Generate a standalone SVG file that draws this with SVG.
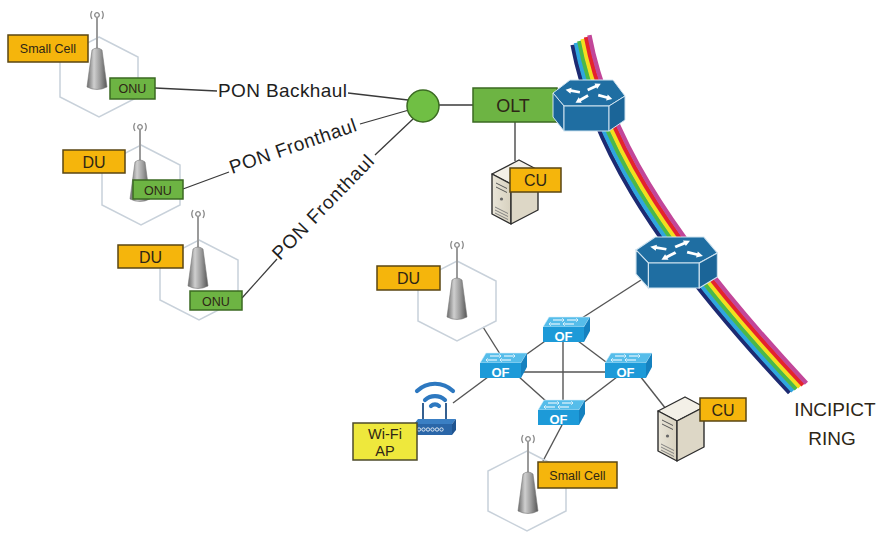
<svg xmlns="http://www.w3.org/2000/svg" width="877" height="534" viewBox="0 0 877 534">
<style>
  .hex{fill:none;stroke:#c8d1da;stroke-width:1.5}
  .lo{fill:#f5b50c;stroke:#5a4612;stroke-width:1.5}
  .lg{fill:#6db443;stroke:#3b6a22;stroke-width:1.5}
  .ly{fill:#eee83c;stroke:#4d4b2a;stroke-width:1.5}
  .t{font-family:"Liberation Sans",Arial,sans-serif;fill:#2e2616;text-anchor:middle}
  .pon{font-family:"Liberation Sans",Arial,sans-serif;fill:#1e1e1e;font-size:19px}
  .of{font-family:"Liberation Sans",Arial,sans-serif;fill:#ffffff;font-size:13px;font-weight:bold;text-anchor:middle}
  .link{stroke:#3a3a3a;stroke-width:1.3;fill:none}
  .lan{stroke:#555;stroke-width:1.4;fill:none}
</style>
<defs>
  <linearGradient id="coneG" x1="0" x2="1" y1="0" y2="0">
    <stop offset="0" stop-color="#6a6a6a"/>
    <stop offset="0.35" stop-color="#cfcfcf"/>
    <stop offset="0.65" stop-color="#9c9c9c"/>
    <stop offset="1" stop-color="#555"/>
  </linearGradient>
  <linearGradient id="srvF" x1="0" x2="1" y1="0" y2="0">
    <stop offset="0" stop-color="#e9e5d8"/>
    <stop offset="1" stop-color="#d7d1bf"/>
  </linearGradient>
  <!-- hexagonal coverage outline -->
  <path id="hexcell" class="hex" d="M0,-40 L39,-20 L39,20 L0,40 L-39,20 L-39,-20 Z"/>
  <!-- radio mast with cone -->
  <g id="ant">
    <circle cx="0" cy="0" r="2.3" fill="none" stroke="#8a8a8a" stroke-width="1.3"/>
    <path d="M-5,-4 Q-7.5,0 -5,4 M5,-4 Q7.5,0 5,4" stroke="#8a8a8a" fill="none" stroke-width="1.3"/>
    <line x1="0" y1="2.5" x2="0" y2="36" stroke="#9a9a9a" stroke-width="2"/>
    <path d="M-5,35 Q0,31 5,35 L10,72 Q0,77 -10,72 Z" fill="url(#coneG)" stroke="#777" stroke-width="0.6"/>
  </g>
  <!-- arrow glyph used on router tops -->
  <polygon id="arr" points="-7,-1.6 2,-1.6 2,-3.6 7.5,0 2,3.6 2,1.6 -7,1.6" fill="#ffffff"/>
  <!-- core router -->
  <g id="router">
    <polygon points="0,13 17,0 60,0 72,16 56,26 11,26" fill="#1f6ea2" stroke="#cfe3f0" stroke-width="1"/>
    <polygon points="0,13 11,26 11,51 0,37" fill="#1b6598" stroke="#cfe3f0" stroke-width="1"/>
    <rect x="11" y="26" width="45" height="25" fill="#1f6ea2" stroke="#cfe3f0" stroke-width="1"/>
    <polygon points="56,26 72,16 72,40 56,51" fill="#1b6598" stroke="#cfe3f0" stroke-width="1"/>
    <use href="#arr" transform="translate(20,11) rotate(190) scale(1,0.85)"/>
    <use href="#arr" transform="translate(41,7) rotate(-25) scale(1,0.85)"/>
    <use href="#arr" transform="translate(52,17) rotate(15) scale(1,0.85)"/>
    <use href="#arr" transform="translate(29,19) rotate(150) scale(1,0.85)"/>
  </g>
  <!-- workgroup switch body -->
  <g id="ofsw">
    <polygon points="6,0 47,0 41,10 0,10" fill="#56bdea" stroke="#d6f0fb" stroke-width="0.6"/>
    <rect x="0" y="10" width="41" height="15" fill="#1d9ad8"/>
    <polygon points="41,10 47,0 47,14 41,25" fill="#1581bf"/>
    <path d="M10,3 h9 M24,3 h9 M8,7 h9 M22,7 h9" stroke="#ffffff" stroke-width="1.1"/>
    <path d="M19,1.5 l2,1.5 l-2,1.5 M22,5.5 l-2,1.5 l2,1.5 M33,1.5 l2,1.5 l-2,1.5 M8,5.5 l-2,1.5 l2,1.5" stroke="#ffffff" stroke-width="0.9" fill="none"/>
  </g>
  <!-- tower server -->
  <g id="server">
    <polygon points="0,14 27,0 46,10 19,24" fill="#f3f0e7" stroke="#2e2e2e" stroke-width="1.4" stroke-linejoin="round"/>
    <polygon points="0,14 19,24 19,64 0,54" fill="url(#srvF)" stroke="#2e2e2e" stroke-width="1.4" stroke-linejoin="round"/>
    <polygon points="19,24 46,10 46,50 19,64" fill="#ddd7c6" stroke="#2e2e2e" stroke-width="1.4" stroke-linejoin="round"/>
    <path d="M4,23 L15,28.5 M4,27 L15,32.5" stroke="#555" stroke-width="1"/>
    <circle cx="9.5" cy="39" r="1.6" fill="#666"/>
    <path d="M3,47 L16,53.5 M3,50 L16,56.5 M3,53 L16,59.5" stroke="#777" stroke-width="0.9"/>
  </g>
  <!-- ring fibre path -->
  <path id="ringpath" d="M581,40 C598,130 650,230 798,388" fill="none"/>
</defs>

<!-- fibre ring -->
<g id="incipict-ring" fill="none" stroke-width="4.4">
  <use href="#ringpath" stroke="#1d2a72" transform="translate(-8.4,4.85)"/>
  <use href="#ringpath" stroke="#2fa6df" transform="translate(-5.05,2.9)"/>
  <use href="#ringpath" stroke="#4cb848" transform="translate(-1.7,0.97)"/>
  <use href="#ringpath" stroke="#f2df1e" transform="translate(1.7,-0.97)"/>
  <use href="#ringpath" stroke="#e5232c" transform="translate(5.05,-2.9)"/>
  <use href="#ringpath" stroke="#c24699" transform="translate(8.4,-4.85)"/>
</g>
<g id="ring-label">
  <text class="t" x="835" y="416" font-size="19" fill="#333">INCIPICT</text>
  <text class="t" x="832" y="445" font-size="19" fill="#333">RING</text>
</g>

<!-- connectors -->
<g id="connectors">
  <line class="link" x1="155" y1="88" x2="217" y2="91"/>
  <line class="link" x1="348" y1="93" x2="408" y2="100"/>
  <line class="link" x1="183" y1="189" x2="229" y2="172"/>
  <line class="link" x1="360" y1="124" x2="409" y2="110"/>
  <line class="link" x1="242" y1="298" x2="277" y2="259"/>
  <line class="link" x1="375" y1="155" x2="413" y2="119"/>
  <line class="link" x1="439" y1="105" x2="473" y2="105"/>
  <line class="link" x1="515" y1="122" x2="515" y2="161"/>
  <text class="pon" x="218" y="97" textLength="129">PON Backhaul</text>
  <text class="pon" transform="translate(232,174) rotate(-19)" textLength="133">PON Fronthaul</text>
  <text class="pon" transform="translate(280,261) rotate(-46)" textLength="137">PON Fronthaul</text>
  <!-- metro / OpenFlow mesh -->
  <line class="lan" x1="641" y1="280" x2="582" y2="318"/>
  <line class="lan" x1="483" y1="327" x2="500" y2="354"/>
  <line class="lan" x1="527" y1="354" x2="548" y2="339"/>
  <line class="lan" x1="578" y1="341" x2="606" y2="362"/>
  <line class="lan" x1="563" y1="342" x2="563" y2="401"/>
  <line class="lan" x1="522" y1="372" x2="606" y2="372"/>
  <line class="lan" x1="518" y1="376" x2="547" y2="402"/>
  <line class="lan" x1="617" y1="377" x2="583" y2="403"/>
  <line class="lan" x1="453" y1="403" x2="488" y2="377"/>
  <line class="lan" x1="562" y1="425" x2="543" y2="461"/>
  <line class="lan" x1="640" y1="376" x2="666" y2="409"/>
</g>

<!-- PON access side -->
<g id="small-cell-1">
  <use href="#hexcell" transform="translate(99,77)"/>
  <use href="#ant" transform="translate(97,15)"/>
  <rect class="lo" x="8" y="35" width="80" height="27"/>
  <text class="t" x="48" y="53" font-size="12.5">Small Cell</text>
  <rect class="lg" x="110" y="78" width="45" height="21"/>
  <text class="t" x="132.5" y="93" font-size="12.5">ONU</text>
</g>
<g id="du-1">
  <use href="#hexcell" transform="translate(141,185)"/>
  <use href="#ant" transform="translate(140,127)"/>
  <rect class="lo" x="63" y="150" width="62" height="23"/>
  <text class="t" x="94" y="167.5" font-size="16">DU</text>
  <rect class="lg" x="133" y="180" width="50" height="19"/>
  <text class="t" x="158" y="194.5" font-size="12.5">ONU</text>
</g>
<g id="du-2">
  <use href="#hexcell" transform="translate(199,280)"/>
  <use href="#ant" transform="translate(198,214)"/>
  <rect class="lo" x="118" y="245" width="65" height="23"/>
  <text class="t" x="150.5" y="262.5" font-size="16">DU</text>
  <rect class="lg" x="190" y="291" width="52" height="19"/>
  <text class="t" x="216" y="305.5" font-size="12.5">ONU</text>
</g>
<g id="splitter">
  <circle cx="423" cy="106" r="16" fill="#70bf44" stroke="#3b6a22" stroke-width="1.5"/>
</g>
<g id="olt">
  <rect class="lg" x="473" y="88" width="84" height="34"/>
  <text class="t" x="513" y="112" font-size="18">OLT</text>
</g>
<g id="router-1">
  <use href="#router" transform="translate(553,80)"/>
</g>
<g id="cu-1">
  <use href="#server" transform="translate(492,160)"/>
  <rect class="lo" x="510" y="168" width="51" height="24"/>
  <text class="t" x="535.5" y="186" font-size="16">CU</text>
</g>

<!-- metro side -->
<g id="router-2">
  <use href="#router" transform="translate(636,237) scale(1.13,1)"/>
</g>
<g id="du-3">
  <use href="#hexcell" transform="translate(457,301)"/>
  <use href="#ant" transform="translate(457,245)"/>
  <rect class="lo" x="377" y="266" width="63" height="24"/>
  <text class="t" x="408.5" y="284" font-size="16">DU</text>
</g>
<g id="of-top">
  <use href="#ofsw" transform="translate(543,317)"/>
  <text class="of" x="563.5" y="340.5">OF</text>
</g>
<g id="of-left">
  <use href="#ofsw" transform="translate(480,353)"/>
  <text class="of" x="500.5" y="376.5">OF</text>
</g>
<g id="of-right">
  <use href="#ofsw" transform="translate(605,353)"/>
  <text class="of" x="625.5" y="376.5">OF</text>
</g>
<g id="of-bottom">
  <use href="#ofsw" transform="translate(538,400)"/>
  <text class="of" x="558.5" y="423.5">OF</text>
</g>
<g id="wifi-ap">
  <path d="M417,391 A26,26 0 0 1 453,391 M425,400 A15,15 0 0 1 445,400 M431,406 A6,6 0 0 1 439,406" fill="none" stroke="#2d78c0" stroke-width="4.2" stroke-linecap="round"/>
  <line x1="423" y1="403" x2="423" y2="420" stroke="#1f4f85" stroke-width="1.8"/>
  <line x1="446" y1="403" x2="446" y2="420" stroke="#1f4f85" stroke-width="1.8"/>
  <polygon points="418,419 456,419 452,424 414,424" fill="#3a7fc4"/>
  <rect x="414" y="424" width="38" height="11" fill="#2a66a8"/>
  <polygon points="452,424 456,419 456,430 452,435" fill="#1f5490"/>
  <g fill="none" stroke="#ffffff" stroke-width="0.8">
    <circle cx="419" cy="429.5" r="1.7"/><circle cx="423.5" cy="429.5" r="1.7"/><circle cx="428" cy="429.5" r="1.7"/>
    <circle cx="432.5" cy="429.5" r="1.7"/><circle cx="437" cy="429.5" r="1.7"/><circle cx="441.5" cy="429.5" r="1.7"/>
  </g>
  <rect class="ly" x="353" y="423" width="64" height="37"/>
  <text class="t" x="385" y="439" font-size="14.5">Wi-Fi</text>
  <text class="t" x="385" y="456" font-size="14.5">AP</text>
</g>
<g id="small-cell-2">
  <use href="#hexcell" transform="translate(527,491)"/>
  <use href="#ant" transform="translate(528,439)"/>
  <rect class="lo" x="538" y="462" width="79" height="26"/>
  <text class="t" x="577.5" y="480" font-size="12.5">Small Cell</text>
</g>
<g id="cu-2">
  <use href="#server" transform="translate(658,397)"/>
  <rect class="lo" x="700" y="398" width="46" height="23"/>
  <text class="t" x="723" y="415.5" font-size="16">CU</text>
</g>
</svg>
